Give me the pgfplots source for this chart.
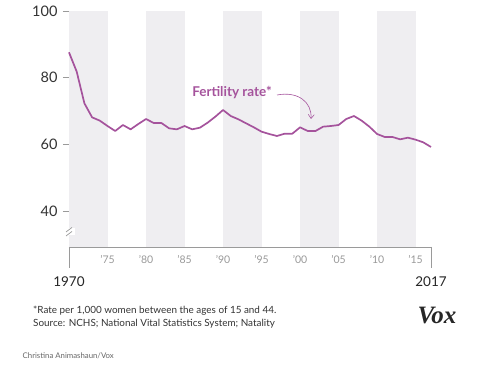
\documentclass[border=0pt]{standalone}
\usepackage{pgfplots}
\pgfplotsset{compat=1.18}
\usepackage{pgfplotstable}
\usetikzlibrary{arrows.meta}
\usepackage{fontspec}
\setmainfont{Lato}
\newfontfamily\voxfont{Liberation Serif}
\definecolor{fert}{HTML}{A5539C}
\definecolor{band}{HTML}{EFEEF1}
\definecolor{axg}{HTML}{9A9A9A}
\pgfplotstableread{
year rate
1970 87.6
1971 81.8
1972 72.3
1973 68.1
1974 67.1
1975 65.5
1976 64.0
1977 65.8
1978 64.5
1979 66.1
1980 67.6
1981 66.4
1982 66.4
1983 64.8
1984 64.5
1985 65.5
1986 64.5
1987 65.0
1988 66.5
1989 68.3
1990 70.3
1991 68.5
1992 67.5
1993 66.3
1994 65.1
1995 63.8
1996 63.1
1997 62.5
1998 63.2
1999 63.2
2000 65.1
2001 64.0
2002 64.0
2003 65.3
2004 65.5
2005 65.8
2006 67.6
2007 68.5
2008 67.1
2009 65.3
2010 63.1
2011 62.2
2012 62.2
2013 61.5
2014 62.0
2015 61.4
2016 60.6
2017 59.2
}\ratetable
\begin{document}
\begin{tikzpicture}
\useasboundingbox (0pt,0pt) rectangle (480pt,-366pt);
\begin{axis}[at={(69pt,-247pt)}, anchor=south west, scale only axis,
  width=362pt, height=236pt,
  xmin=1970, xmax=2017, ymin=29.2, ymax=100,
  /pgf/number format/assume math mode=true,
  axis x line*=bottom, axis y line*=left,
  axis line style={axg, line width=0.8pt, -},
  ytick={40,60,80,100},
  yticklabel style={font=\fontsize{14.5}{16}\selectfont, text=black!80, xshift=-2pt},
  ytick style={axg, line width=0.8pt},
  major tick length=6pt, tick align=outside,
  xtick={1975,1980,...,2015},
  xticklabels={'75,'80,'85,'90,'95,'00,'05,'10,'15},
  xtick style={draw=none},
  xticklabel style={font=\fontsize{10.5}{12}\selectfont, text=black!40, yshift=1pt},
  clip=false,
]
\addplot[fill=band, draw=none] coordinates {(1970,100)(1975,100)} \closedcycle;
\addplot[fill=band, draw=none] coordinates {(1980,100)(1985,100)} \closedcycle;
\addplot[fill=band, draw=none] coordinates {(1990,100)(1995,100)} \closedcycle;
\addplot[fill=band, draw=none] coordinates {(2000,100)(2005,100)} \closedcycle;
\addplot[fill=band, draw=none] coordinates {(2010,100)(2015,100)} \closedcycle;
\addplot[fert, line width=1.7pt, line join=round] table[x=year, y=rate] {\ratetable};
\end{axis}
% end ticks
\draw[axg, line width=0.8pt] (69pt,-247pt) -- (69pt,-268pt);
\draw[axg, line width=0.8pt] (431pt,-247pt) -- (431pt,-268pt);
\node[font=\fontsize{13.5}{15}\selectfont, text=black!85] at (69pt,-282pt) {1970};
\node[font=\fontsize{13.5}{15}\selectfont, text=black!85] at (431pt,-282pt) {2017};
% axis break
\fill[white] (63pt,-228.5pt) rectangle (75pt,-235.5pt);
\draw[axg, line width=0.7pt] (66pt,-232pt) -- (72pt,-227.5pt);
\draw[axg, line width=0.7pt] (66pt,-236pt) -- (72pt,-231.5pt);
% annotation
\node[font=\fontsize{13.5}{15}\selectfont\bfseries, text=fert] at (232pt,-93pt) {Fertility rate*};
\draw[fert, line width=0.6pt, -{Straight Barb[length=4pt,width=6pt]}] (277pt,-95pt) .. controls (298pt,-91pt) and (312pt,-102pt) .. (311pt,-119pt);
% footnotes
\node[anchor=west, inner sep=0, font=\fontsize{9.9}{11}\selectfont, text=black!80] at (33pt,-310.5pt) {*Rate per 1,000 women between the ages of 15 and 44.};
\node[anchor=west, inner sep=0, font=\fontsize{9.9}{11}\selectfont, text=black!80] at (33pt,-323.3pt) {Source: NCHS; National Vital Statistics System; Natality};
\node[anchor=west, inner sep=0, font=\fontsize{7.8}{9}\selectfont, text=black!60] at (22.5pt,-355.5pt) {Christina Animashaun/Vox};
\node[font=\voxfont\fontsize{25}{27}\selectfont\bfseries\itshape, text=black!85] at (437pt,-316pt) {Vox};
\end{tikzpicture}
\end{document}
